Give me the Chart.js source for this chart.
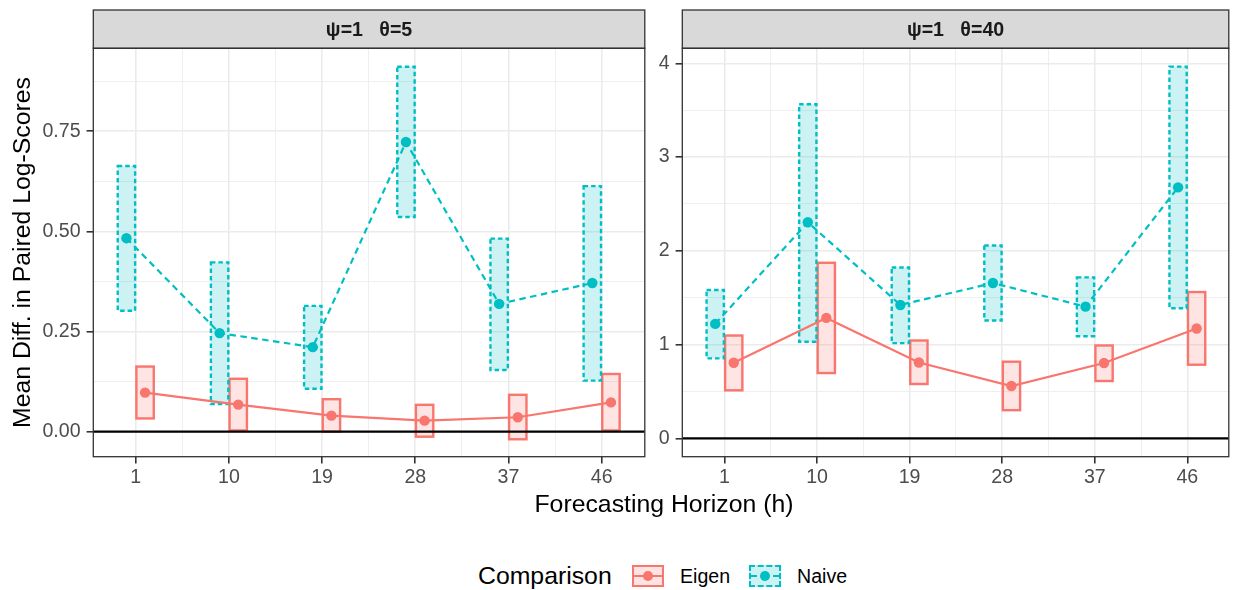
<!DOCTYPE html>
<html>
<head>
<meta charset="utf-8">
<script src="https://cdn.jsdelivr.net/npm/chart.js@4.4.1/dist/chart.umd.min.js"></script>
<style>
  body { margin: 0; width: 1234px; height: 590px; background: #fff; position: relative; overflow: hidden;
         font-family: "Liberation Sans", Arial, sans-serif; color: #000; }
  canvas { position: absolute; top: 0; }
  .txt { position: absolute; line-height: 1; white-space: nowrap; }
  #xtitle { left: 464px; width: 400px; top: 492px; text-align: center; font-size: 24.8px; }
  #legtitle { left: 478px; top: 564px; font-size: 24.8px; }
  .key { position: absolute; top: 565px; width: 32px; height: 22px; box-sizing: border-box; }
  .key .ln { position: absolute; left: 0; right: 0; top: 50%; margin-top: -1px; border-top-width: 2px; }
  .key .dot { position: absolute; left: 50%; top: 50%; width: 10px; height: 10px; margin: -5px 0 0 -5px; border-radius: 50%; }
  #keyEigen { left: 632px; border: 2px solid #F8766D; background: #FDE3E1; }
  #keyEigen .ln { border-top-style: solid; border-top-color: #F8766D; }
  #keyEigen .dot { background: #F8766D; }
  #keyNaive { left: 749px; border: 2px dashed #00BFC4; background: #CCF2F3; }
  #keyNaive .ln { border-top-style: dashed; border-top-color: #00BFC4; }
  #keyNaive .dot { background: #00BFC4; }
  .legtxt { top: 567px; font-size: 19.6px; }
</style>
</head>
<body>
<canvas id="theta5" width="650" height="500" style="left:0"></canvas>
<canvas id="theta40" width="584" height="500" style="left:650px"></canvas>
<div id="xtitle" class="txt">Forecasting Horizon (h)</div>
<div id="legtitle" class="txt">Comparison</div>
<div id="keyEigen" class="key"><div class="ln"></div><div class="dot"></div></div>
<div class="txt legtxt" style="left:680px">Eigen</div>
<div id="keyNaive" class="key"><div class="ln"></div><div class="dot"></div></div>
<div class="txt legtxt" style="left:797px">Naive</div>
<script>
const horizons = [1, 10, 19, 28, 37, 46];

// psi=1, theta=5
const eigenMean5 = [0.0975, 0.0675, 0.040, 0.0275, 0.036, 0.073];
const eigenLow5  = [0.033, 0.003, 0.000, -0.0125, -0.019, 0.003];
const eigenHigh5 = [0.1625, 0.132, 0.081, 0.067, 0.092, 0.144];
const naiveMean5 = [0.483, 0.246, 0.211, 0.723, 0.319, 0.371];
const naiveLow5  = [0.302, 0.069, 0.107, 0.536, 0.154, 0.1275];
const naiveHigh5 = [0.663, 0.4225, 0.314, 0.911, 0.482, 0.613];

// psi=1, theta=40
const eigenMean40 = [0.807, 1.285, 0.810, 0.559, 0.804, 1.172];
const eigenLow40  = [0.513, 0.697, 0.580, 0.301, 0.612, 0.786];
const eigenHigh40 = [1.097, 1.873, 1.044, 0.818, 0.991, 1.561];
const naiveMean40 = [1.221, 2.305, 1.423, 1.657, 1.405, 2.677];
const naiveLow40  = [0.853, 1.030, 1.016, 1.257, 1.090, 1.388];
const naiveHigh40 = [1.582, 3.564, 1.823, 2.057, 1.717, 3.965];

const yTicks5 = [0, 0.25, 0.5, 0.75];
const yTicks40 = [0, 1, 2, 3, 4];
const strip5 = 'ψ=1   θ=5';
const strip40 = 'ψ=1   θ=40';
const zeroLine = 0;

const EIGEN = '#F8766D', NAIVE = '#00BFC4';
const FONT = '"Liberation Sans", Arial, sans-serif';
const DODGE = 0.9, HALF_BOX = 0.84;

// major breaks plus the minor ones halfway between
function withMinor(major, lo, hi) {
  const step = major[1] - major[0];
  const out = [];
  if (major[0] - step / 2 >= lo) out.push(major[0] - step / 2);
  major.forEach(v => {
    out.push(v);
    if (v + step / 2 <= hi) out.push(v + step / 2);
  });
  return out;
}

function series(label, mean, low, high, color, fill, shift, dashed) {
  return {
    label,
    data: horizons.map((h, i) => ({x: h + shift, y: mean[i]})),
    boxLow: low, boxHigh: high, boxFill: fill,
    boxDash: dashed ? [4.5, 3] : [],
    borderColor: color, backgroundColor: color,
    borderWidth: 2.2, borderDash: dashed ? [6.5, 4.5] : [],
    pointRadius: 5.2, pointBorderWidth: 0, pointBackgroundColor: color,
    tension: 0, fill: false
  };
}

const crossbars = {
  id: 'crossbars',
  beforeDatasetsDraw(chart) {
    const {ctx, chartArea: a, scales: {x, y}} = chart;
    ctx.save();
    ctx.beginPath();
    ctx.rect(a.left, a.top, a.width, a.height);
    ctx.clip();
    chart.data.datasets.forEach(ds => {
      ds.data.forEach((p, i) => {
        const x0 = x.getPixelForValue(p.x - HALF_BOX), x1 = x.getPixelForValue(p.x + HALF_BOX);
        const y0 = y.getPixelForValue(ds.boxHigh[i]), y1 = y.getPixelForValue(ds.boxLow[i]);
        ctx.fillStyle = ds.boxFill;
        ctx.fillRect(x0, y0, x1 - x0, y1 - y0);
        ctx.setLineDash(ds.boxDash);
        ctx.lineWidth = 2.4;
        ctx.strokeStyle = ds.borderColor;
        ctx.strokeRect(x0, y0, x1 - x0, y1 - y0);
      });
    });
    ctx.setLineDash([]);
    ctx.strokeStyle = '#000';
    ctx.lineWidth = 2.2;
    const yz = y.getPixelForValue(zeroLine);
    ctx.beginPath();
    ctx.moveTo(a.left, yz);
    ctx.lineTo(a.right, yz);
    ctx.stroke();
    ctx.restore();
  }
};

const facet = {
  id: 'facet',
  afterDraw(chart, args, opts) {
    const {ctx, chartArea: a} = chart;
    ctx.save();
    ctx.fillStyle = '#D9D9D9';
    ctx.fillRect(a.left, opts.top, a.width, a.top - opts.top);
    ctx.strokeStyle = '#333333';
    ctx.lineWidth = 1.3;
    ctx.strokeRect(a.left, opts.top, a.width, a.top - opts.top);
    ctx.strokeRect(a.left, a.top, a.width, a.height);
    ctx.fillStyle = '#1A1A1A';
    ctx.font = 'bold 19.6px ' + FONT;
    ctx.textAlign = 'center';
    ctx.textBaseline = 'middle';
    ctx.fillText(opts.label, (a.left + a.right) / 2, (opts.top + a.top) / 2 + 1);
    ctx.restore();
  }
};

function panel(id, eMean, eLow, eHigh, nMean, nLow, nHigh, yMajor, yRange, xRange, decimals, label, yWidth, padRight, yTitle) {
  const xGrid = withMinor(horizons, xRange[0], xRange[1]);
  const yGrid = withMinor(yMajor, yRange[0], yRange[1]);
  const tickFont = {family: FONT, size: 19.6};
  new Chart(document.getElementById(id), {
    type: 'line',
    data: {
      datasets: [
        series('Eigen', eMean, eLow, eHigh, EIGEN, 'rgba(248,118,109,0.2)', DODGE, false),
        series('Naive', nMean, nLow, nHigh, NAIVE, 'rgba(0,191,196,0.2)', -DODGE, true)
      ]
    },
    options: {
      responsive: false,
      animation: false,
      layout: {padding: {top: 48.3, right: padRight, bottom: 0, left: 0}},
      plugins: {
        legend: {display: false},
        tooltip: {enabled: false},
        facet: {label: label, top: 10}
      },
      scales: {
        x: {
          type: 'linear', min: xRange[0], max: xRange[1],
          afterBuildTicks: s => { s.ticks = xGrid.map(v => ({value: v})); },
          afterFit: s => { s.height = 43.3; s.paddingLeft = 0; s.paddingRight = 0; },
          ticks: {autoSkip: false, maxRotation: 0, padding: 2, color: '#4D4D4D', font: tickFont,
                  callback: v => horizons.includes(v) ? String(v) : ''},
          grid: {
            color: '#EBEBEB', tickLength: 6.7,
            lineWidth: c => c.tick && horizons.includes(c.tick.value) ? 1.6 : 0.8,
            tickColor: c => c.tick && horizons.includes(c.tick.value) ? '#333333' : 'rgba(0,0,0,0)'
          },
          border: {display: false}
        },
        y: {
          type: 'linear', min: yRange[0], max: yRange[1],
          afterBuildTicks: s => { s.ticks = yGrid.map(v => ({value: v})); },
          afterFit: s => { s.width = yWidth; s.paddingTop = 0; s.paddingBottom = 0; },
          ticks: {autoSkip: false, padding: 6, color: '#4D4D4D', font: tickFont,
                  callback: v => yMajor.includes(v) ? v.toFixed(decimals) : ''},
          grid: {
            color: '#EBEBEB', tickLength: 6.7,
            lineWidth: c => c.tick && yMajor.includes(c.tick.value) ? 1.6 : 0.8,
            tickColor: c => c.tick && yMajor.includes(c.tick.value) ? '#333333' : 'rgba(0,0,0,0)'
          },
          border: {display: false},
          title: {display: !!yTitle, text: yTitle || '', color: '#000',
                  font: {family: FONT, size: 24.8}, padding: {top: 8, bottom: 0}}
        }
      }
    },
    plugins: [crossbars, facet]
  });
}

panel('theta5', eigenMean5, eigenLow5, eigenHigh5, naiveMean5, naiveLow5, naiveHigh5,
      yTicks5, [-0.0625, 0.957], [-3.1, 50.17], 2, strip5, 93.3, 4.3, 'Mean Diff. in Paired Log-Scores');
panel('theta40', eigenMean40, eigenLow40, eigenHigh40, naiveMean40, naiveLow40, naiveHigh40,
      yTicks40, [-0.195, 4.16], [-3.1, 50.03], 0, strip40, 32.3, 0.7, null);
</script>
</body>
</html>
